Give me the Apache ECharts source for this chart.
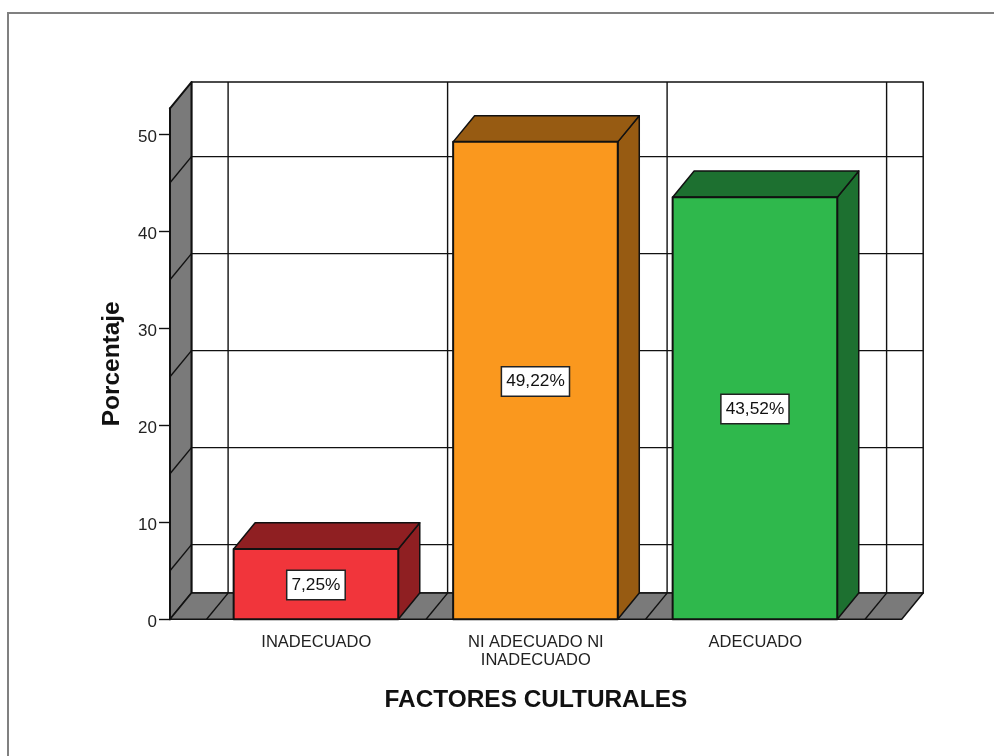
<!DOCTYPE html>
<html>
<head>
<meta charset="utf-8">
<style>
  html, body { margin: 0; padding: 0; background: #fff; }
  #chart { width: 994px; height: 756px; }
</style>
<script src="https://cdn.jsdelivr.net/npm/echarts@6/dist/echarts.min.js"></script>
</head>
<body>
<div id="chart"></div>
<script>
// Factores culturales: porcentaje por categoría
const categories = ['INADECUADO', 'NI ADECUADO NI\nINADECUADO', 'ADECUADO'];
const porcentajes = [7.25, 49.22, 43.52];
const frontColors = ['#F1353B', '#FA981E', '#2FB84C'];
const shadeColors = ['#8F1F22', '#975B12', '#1D7030'];
const wallLevels = [5, 15, 25, 35, 45];
const axisTicks = [0, 10, 20, 30, 40, 50];

// Oblique projection of the box: how far the rear plane sits from the front plane
const DEPTH_X = 21.5;
const DEPTH_Y = -26.2;
// The box extends past the outer category bands by this much on each side
const GUTTER = 36.6;
const FONT = '"Liberation Sans", Arial, sans-serif';
const INK = '#111';
const WALL = '#7A7A7A';

const poly = (points, fill, lineWidth) => ({
  type: 'polygon',
  shape: { points },
  style: { fill, stroke: INK, lineWidth: lineWidth || 1.5, lineJoin: 'round' }
});
const seg = (x1, y1, x2, y2, lineWidth) => ({
  type: 'line',
  shape: { x1, y1, x2, y2 },
  style: { stroke: INK, lineWidth: lineWidth || 1.4 }
});

// Rear wall, left wall, floor and their rules
function renderBox(params, api) {
  const cs = params.coordSys;
  const left = cs.x - GUTTER;
  const right = cs.x + cs.width + GUTTER;
  const top = cs.y;
  const bottom = api.coord([0, 0])[1];
  const band = api.size([1, 0])[0];
  const children = [
    poly([[left + DEPTH_X, top + DEPTH_Y], [right + DEPTH_X, top + DEPTH_Y],
          [right + DEPTH_X, bottom + DEPTH_Y], [left + DEPTH_X, bottom + DEPTH_Y]], '#fff'),
    poly([[left, bottom], [left + DEPTH_X, bottom + DEPTH_Y],
          [left + DEPTH_X, top + DEPTH_Y], [left, top]], WALL, 2),
    poly([[left, bottom], [right, bottom],
          [right + DEPTH_X, bottom + DEPTH_Y], [left + DEPTH_X, bottom + DEPTH_Y]], WALL)
  ];
  wallLevels.forEach(function (level) {
    const y = api.coord([0, level])[1];
    children.push(seg(left, y, left + DEPTH_X, y + DEPTH_Y));
    children.push(seg(left + DEPTH_X, y + DEPTH_Y, right + DEPTH_X, y + DEPTH_Y));
  });
  for (let i = 0; i <= categories.length; i++) {
    const x = cs.x + i * band;
    children.push(seg(x, bottom, x + DEPTH_X, bottom + DEPTH_Y));
    children.push(seg(x + DEPTH_X, bottom + DEPTH_Y, x + DEPTH_X, top + DEPTH_Y));
  }
  return { type: 'group', children };
}

// One extruded bar with its value tag on the front face
function renderBar(params, api) {
  const i = api.value(0);
  const value = api.value(1);
  const center = api.coord([i, value]);
  const base = api.coord([i, 0]);
  const half = api.size([1, 0])[0] * 0.375;
  const l = center[0] - half - 0.4;
  const r = center[0] + half - 0.4;
  const t = center[1];
  const b = base[1];
  const dx = DEPTH_X, dy = DEPTH_Y;
  return {
    type: 'group',
    children: [
      poly([[r, b], [r + dx, b + dy], [r + dx, t + dy], [r, t]], shadeColors[i]),
      poly([[l, t], [r, t], [r + dx, t + dy], [l + dx, t + dy]], shadeColors[i]),
      poly([[l, t], [r, t], [r, b], [l, b]], frontColors[i], 2),
      {
        type: 'text',
        style: {
          x: center[0] - 0.4,
          y: (t + b) / 2 + 0.8,
          text: value.toFixed(2).replace('.', ',') + '%',
          align: 'center',
          verticalAlign: 'middle',
          font: '17.3px ' + FONT,
          fill: '#111',
          backgroundColor: '#fff',
          borderColor: '#222',
          borderWidth: 1.5,
          padding: [6, 4, 5, 4]
        }
      }
    ]
  };
}

const chart = echarts.init(document.getElementById('chart'));
chart.setOption({
  animation: false,
  backgroundColor: '#fff',
  textStyle: { fontFamily: FONT },
  graphic: [{
    type: 'polyline',
    silent: true,
    shape: { points: [[8, 756], [8, 13], [994, 13]] },
    style: { stroke: '#808080', fill: 'none', lineWidth: 2 }
  }],
  grid: { left: 206.6, width: 658.5, top: 108.3, height: 511 },
  xAxis: {
    type: 'category',
    data: categories,
    name: 'FACTORES CULTURALES',
    nameLocation: 'middle',
    nameGap: 69,
    nameTextStyle: { fontFamily: FONT, fontSize: 24.4, fontWeight: 'bold', color: '#111' },
    axisLine: { show: false },
    axisTick: { alignWithLabel: true, length: 12, lineStyle: { color: INK, width: 1.4 } },
    axisLabel: { fontFamily: FONT, fontSize: 16.5, color: '#222', margin: 14, lineHeight: 18, interval: 0 },
    splitLine: { show: false }
  },
  yAxis: {
    type: 'value',
    min: 0,
    max: 52.68,
    interval: 10,
    offset: GUTTER,
    name: 'Porcentaje',
    nameLocation: 'middle',
    nameGap: 46,
    nameTextStyle: { fontFamily: FONT, fontSize: 24.4, fontWeight: 'bold', color: '#111' },
    axisLine: { show: true, lineStyle: { color: INK, width: 2 } },
    axisTick: { show: true, length: 11, customValues: axisTicks, lineStyle: { color: INK, width: 1.4 } },
    // Tick numbers hang a few pixels below their tick marks
    axisLabel: { fontFamily: FONT, fontSize: 17, color: '#222', margin: 13, verticalAlign: 'top', lineHeight: 7, customValues: axisTicks },
    splitLine: { show: false }
  },
  series: [
    {
      type: 'custom',
      silent: true,
      z: 1,
      renderItem: renderBox,
      data: [[0, 0]]
    },
    {
      type: 'custom',
      silent: true,
      z: 2,
      renderItem: renderBar,
      encode: { x: 0, y: 1 },
      data: porcentajes.map((v, i) => [i, v])
    }
  ]
});
</script>
</body>
</html>
